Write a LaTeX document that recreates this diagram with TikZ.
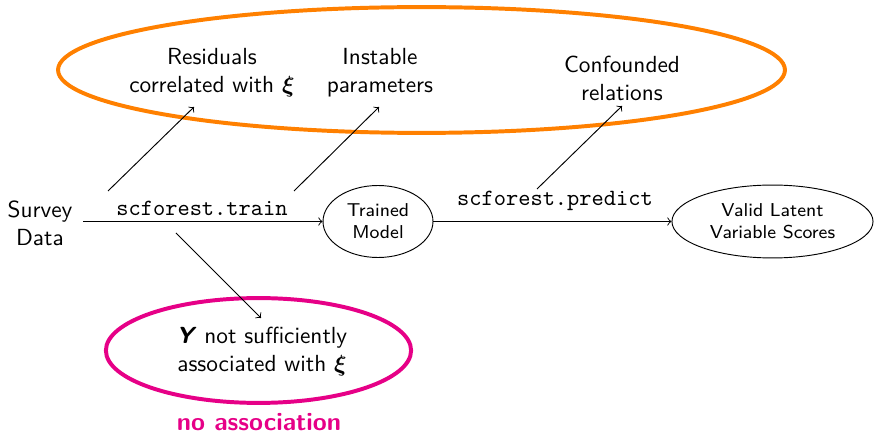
\documentclass[tikz,border=0pt]{standalone}
\usepackage{amsmath,amssymb,bm}
\usetikzlibrary{shapes.geometric}
\definecolor{myorange}{RGB}{255,128,0}
\definecolor{mypink}{RGB}{230,0,135}
\tikzset{
  lbl/.style={font=\sffamily, align=center, inner sep=0pt},
  ell/.style={draw, ellipse, inner sep=0pt, font=\sffamily\footnotesize, align=center},
  bigell/.style={draw, ellipse, line width=1.7pt, inner sep=0pt},
  code/.style={font=\ttfamily, inner sep=0pt},
  arr/.style={->, line width=0.4pt},
}
\begin{document}
\begin{tikzpicture}[x=0.4292pt, y=-0.4292pt]
\useasboundingbox (0,0) rectangle (875,432);
% big ellipses
\node[bigell, myorange, minimum width=312pt, minimum height=54pt] (oval) at (421.5,70) {};
\node[bigell, mypink, minimum width=131pt, minimum height=45pt] (pink) at (258.5,350.5) {};
% main nodes
\node[lbl, inner sep=4.5pt] (sd) at (40,223) {Survey\\Data};
\node[ell, minimum width=47.2pt, minimum height=30.9pt] (tm) at (378,221.5) {Trained\\Model};
\node[ell, minimum width=86.3pt, minimum height=31.3pt] (vl) at (772.5,221.5) {Valid Latent\\Variable Scores};
\draw[arr] (sd.east |- tm.west) -- (tm.west);
\draw[arr] (tm.east) -- (vl.west);
\node[code] (train) at (202,208) {scforest.train};
\node[code] (pred) at (555,201) {scforest.predict};
% text in ellipses
\node[lbl] (res) at (212,73) {Residuals\\correlated with $\boldsymbol{\xi}$};
\node[lbl] (ins) at (380,73) {Instable\\parameters};
\node[lbl] (con) at (622,78) {Confounded\\relations};
\node[lbl] (ynot) at (262,352) {\textbf{\textit{Y}} not sufficiently\\associated with $\boldsymbol{\xi}$};
\node[lbl, font=\sffamily\bfseries\fontsize{10.9}{13}\selectfont, text=mypink] (noa) at (259,422) {no association};
% arrows
\coordinate (s1) at (108,191);
\coordinate (t1) at (194,107);
\coordinate (s2) at (294,191);
\coordinate (t2) at (379,107);
\coordinate (s3) at (537,189);
\coordinate (t3) at (622,106);
\coordinate (s4) at (176,233);
\coordinate (t4) at (261,318);
\draw[arr] (s1) -- (t1);
\draw[arr] (s2) -- (t2);
\draw[arr] (s3) -- (t3);
\draw[arr] (s4) -- (t4);
\end{tikzpicture}
\end{document}
